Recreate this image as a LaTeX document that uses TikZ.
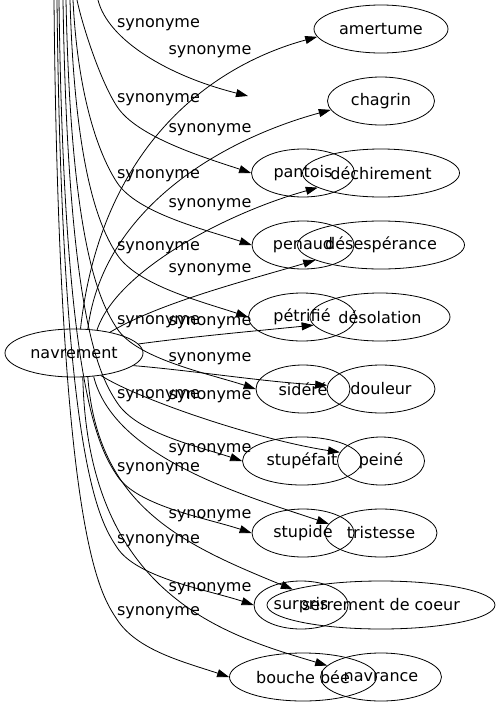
\documentclass[tikz,border=0pt]{standalone}
\usepackage{fontspec}
\setmainfont{DejaVu Sans}
\usetikzlibrary{arrows.meta,shapes.geometric}

\begin{document}
\begin{tikzpicture}[
  x=1pt, y=-1pt,
  word/.style={draw, ellipse, inner sep=0pt, minimum height=48pt, line width=0.8pt, font=\fontsize{16}{19}\selectfont},
  lbl/.style={inner sep=0pt, font=\fontsize{16}{19}\selectfont},
  arr/.style={-{Triangle[length=12pt, width=8pt]}, line width=0.8pt}
]
\useasboundingbox (0,0) rectangle (499,707);
\node[word, minimum width=138pt] (navrement) at (74,353) {navrement};
\node[word, minimum width=134pt] (amertume) at (381,29) {amertume};
\node[word, minimum width=107pt] (chagrin) at (381,101) {chagrin};
\node[word, minimum width=157pt] (dechirement) at (381,173) {déchirement};
\node[word, minimum width=167pt] (desesperance) at (381,245) {désespérance};
\node[word, minimum width=140pt] (desolation) at (380,317) {désolation};
\node[word, minimum width=108pt] (douleur) at (381,389) {douleur};
\node[word, minimum width=87pt] (peine) at (381,461) {peiné};
\node[word, minimum width=112pt] (tristesse) at (381,533) {tristesse};
\node[word, minimum width=228pt] (serrement) at (381,605) {serrement de coeur};
\node[word, minimum width=121pt] (navrance) at (381,677) {navrance};
\node[word, minimum width=103pt] (pantois) at (303,173) {pantois};
\node[word, minimum width=102pt] (penaud) at (303,245) {penaud};
\node[word, minimum width=107pt] (petrifie) at (302,317) {pétrifié};
\node[word, minimum width=94pt] (sidere) at (303,389) {sidéré};
\node[word, minimum width=119pt] (stupefait) at (302,461) {stupéfait};
\node[word, minimum width=102pt] (stupide) at (303,533) {stupide};
\node[word, minimum width=94pt] (surpris) at (301,605) {surpris};
\node[word, minimum width=147pt] (bouchebee) at (303,677) {bouche bée};
\coordinate (top0) at (98,0);
\coordinate (top1) at (77,0);
\coordinate (top2) at (73,0);
\coordinate (top3) at (70,0);
\coordinate (top4) at (66,0);
\coordinate (top5) at (63,0);
\coordinate (top6) at (59,0);
\coordinate (top7) at (57,0);
\coordinate (top8) at (54,0);
\coordinate (hidden) at (248,96);
\node[lbl] (la0) at (158.5,25) {synonyme};
\node[lbl] (la1) at (158.5,100) {synonyme};
\node[lbl] (la2) at (158.5,176) {synonyme};
\node[lbl] (la3) at (158.5,248) {synonyme};
\node[lbl] (la4) at (158.5,322) {synonyme};
\node[lbl] (la5) at (158.5,396) {synonyme};
\node[lbl] (la6) at (158.5,469) {synonyme};
\node[lbl] (la7) at (158.5,541) {synonyme};
\node[lbl] (la8) at (158.5,613) {synonyme};
\node[lbl] (lb1) at (210,52) {synonyme};
\node[lbl] (lb2) at (210,130) {synonyme};
\node[lbl] (lb3) at (210,205) {synonyme};
\node[lbl] (lb4) at (210,270) {synonyme};
\node[lbl] (lb5) at (210,323) {synonyme};
\node[lbl] (lb6) at (210,359) {synonyme};
\node[lbl] (lb7) at (210,397) {synonyme};
\node[lbl] (lb8) at (210,450) {synonyme};
\node[lbl] (lb9) at (210,516) {synonyme};
\node[lbl] (lb10) at (210,589) {synonyme};
\draw[arr] (top0) .. controls +(10,40) and +(-80,-20) .. (hidden);
\draw[arr] (top1) .. controls +(5,24) and +(-17,-26) .. (la1.south west) .. controls +(20,31) and +(-45,-15) .. (pantois.west);
\draw[arr] (top2) .. controls +(5,100) and +(-17,-26) .. (la2.south west) .. controls +(20,31) and +(-45,-15) .. (penaud.west);
\draw[arr] (top3) .. controls +(5,172) and +(-17,-26) .. (la3.south west) .. controls +(20,31) and +(-45,-15) .. (petrifie.west);
\draw[arr] (top4) .. controls +(5,246) and +(-17,-26) .. (la4.south west) .. controls +(20,31) and +(-45,-15) .. (sidere.west);
\draw[arr] (top5) .. controls +(5,320) and +(-17,-26) .. (la5.south west) .. controls +(20,31) and +(-45,-15) .. (stupefait.west);
\draw[arr] (top6) .. controls +(5,393) and +(-17,-26) .. (la6.south west) .. controls +(20,31) and +(-45,-15) .. (stupide.west);
\draw[arr] (top7) .. controls +(5,465) and +(-17,-26) .. (la7.south west) .. controls +(20,31) and +(-45,-15) .. (surpris.west);
\draw[arr] (top8) .. controls +(5,537) and +(-17,-26) .. (la8.south west) .. controls +(20,31) and +(-45,-15) .. (bouchebee.west);
\draw[arr] (navrement.75) .. controls +(20,-179) and +(-110,30) .. (amertume.187);
\draw[arr] (navrement.60) .. controls +(15,-120) and +(-110,30) .. (chagrin.190);
\draw[arr] (navrement.45) .. controls +(20,-60) and +(-90,25) .. (dechirement.193);
\draw[arr] (navrement.30) .. controls +(50,-30) and +(-60,18) .. (desesperance.193);
\draw[arr] (navrement.8) .. controls +(60,-8) and +(-60,6) .. (desolation.187);
\draw[arr] (navrement.-12) .. controls +(60,5) and +(-60,-3) .. (douleur.176);
\draw[arr] (navrement.-40) .. controls +(40,25) and +(-80,-12) .. (peine.168);
\draw[arr] (navrement.-50) .. controls +(20,80) and +(-90,-30) .. (tristesse.170);
\draw[arr] (navrement.-60) .. controls +(10,130) and +(-110,-45) .. (serrement.170);
\draw[arr] (navrement.-70) .. controls +(5,220) and +(-100,-30) .. (navrance.168);
\end{tikzpicture}
\end{document}
